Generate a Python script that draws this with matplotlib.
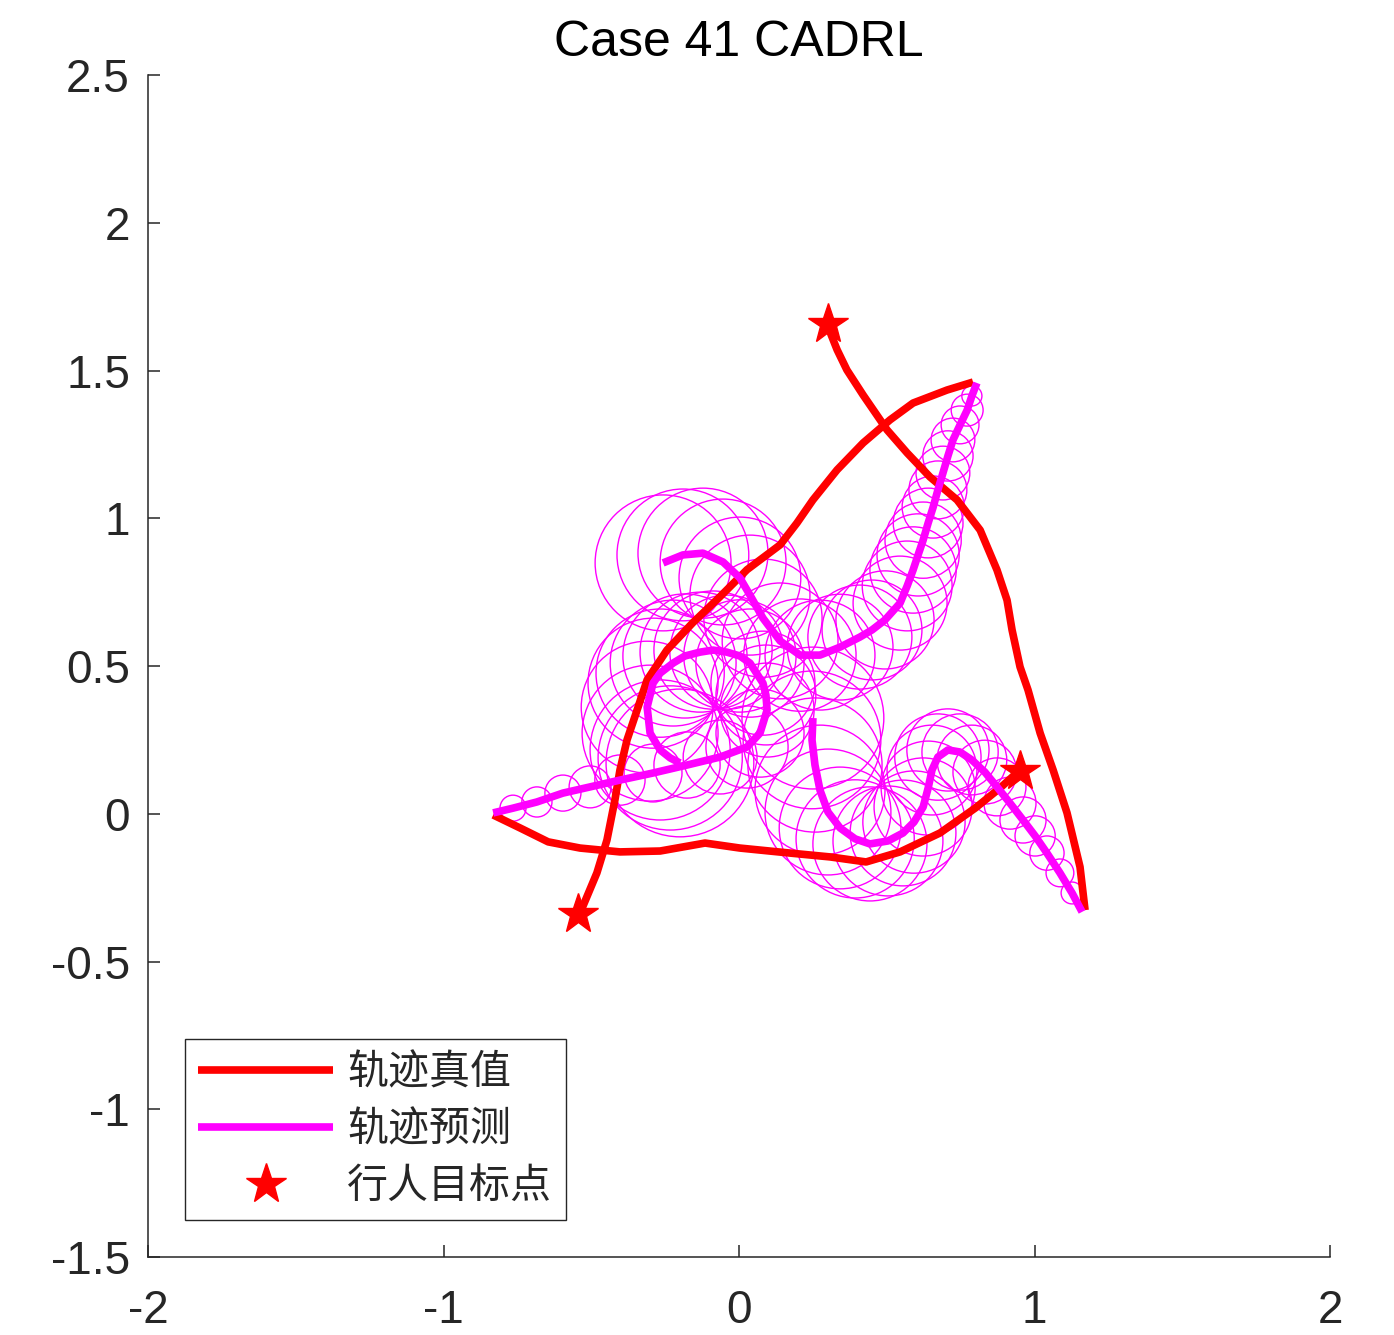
import matplotlib
matplotlib.use('Agg')
import matplotlib.pyplot as plt
from matplotlib.patches import Circle

plt.rcParams['font.family'] = ['Liberation Sans', 'Noto Sans CJK SC', 'DejaVu Sans']
plt.rcParams['axes.unicode_minus'] = False

# ground truth trajectories (red)
gt1_x = [-0.832, -0.741, -0.646, -0.538, -0.403, -0.267, -0.115, 0.003, 0.173, 0.308, 0.430, 0.545, 0.680, 0.799, 0.883, 0.951]
gt1_y = [-0.004, -0.048, -0.095, -0.116, -0.129, -0.126, -0.099, -0.116, -0.133, -0.146, -0.163, -0.129, -0.065, 0.019, 0.087, 0.148]

gt2_x = [1.171, 1.154, 1.110, 1.063, 1.019, 0.978, 0.951, 0.924, 0.907, 0.873, 0.816, 0.738, 0.646, 0.569, 0.501, 0.420, 0.365, 0.332, 0.301]
gt2_y = [-0.326, -0.180, 0.003, 0.148, 0.273, 0.419, 0.497, 0.622, 0.723, 0.825, 0.960, 1.062, 1.140, 1.221, 1.299, 1.417, 1.502, 1.570, 1.648]

gt3_x = [0.792, 0.704, 0.589, 0.511, 0.420, 0.332, 0.250, 0.196, 0.139, 0.027, -0.064, -0.156, -0.244, -0.311, -0.345, -0.379, -0.403, -0.420, -0.447, -0.481, -0.538]
gt3_y = [1.461, 1.434, 1.390, 1.333, 1.255, 1.164, 1.062, 0.984, 0.910, 0.826, 0.735, 0.647, 0.554, 0.453, 0.351, 0.250, 0.148, 0.047, -0.089, -0.200, -0.336]

# predicted trajectories (magenta) and uncertainty radius per step
pr1_x = [-0.832, -0.765, -0.684, -0.596, -0.504, -0.403, -0.291, -0.176, -0.064, 0.027, 0.071, 0.095, 0.091, 0.081,
         0.037, 0.003, -0.041, -0.088, -0.132, -0.183, -0.223, -0.267, -0.291, -0.311, -0.301, -0.267, -0.233, -0.200]
pr1_y = [0.003, 0.019, 0.040, 0.070, 0.091, 0.114, 0.138, 0.165, 0.192, 0.226, 0.273, 0.351, 0.402, 0.442,
         0.510, 0.534, 0.547, 0.554, 0.547, 0.534, 0.510, 0.476, 0.442, 0.361, 0.273, 0.216, 0.189, 0.172]
pr1_r = [0.0, 0.044, 0.051, 0.061, 0.071, 0.085, 0.098, 0.112, 0.125, 0.139, 0.149, 0.159, 0.169, 0.176,
         0.183, 0.190, 0.193, 0.200, 0.203, 0.210, 0.213, 0.217, 0.220, 0.223, 0.230, 0.237, 0.244, 0.250]

pr2_x = [1.161, 1.127, 1.086, 1.042, 1.002, 0.961, 0.917, 0.873, 0.832, 0.788, 0.748, 0.707, 0.673, 0.653,
         0.640, 0.623, 0.592, 0.555, 0.504, 0.443, 0.393, 0.342, 0.301, 0.274, 0.257, 0.247, 0.250]
pr2_y = [-0.332, -0.268, -0.200, -0.133, -0.075, -0.021, 0.036, 0.091, 0.141, 0.182, 0.209, 0.216, 0.192, 0.148,
         0.087, 0.023, -0.028, -0.065, -0.092, -0.102, -0.085, -0.048, 0.006, 0.080, 0.165, 0.250, 0.324]
pr2_r = [0.0, 0.037, 0.047, 0.058, 0.068, 0.078, 0.088, 0.098, 0.108, 0.118, 0.129, 0.139, 0.146, 0.152,
         0.159, 0.166, 0.173, 0.179, 0.186, 0.193, 0.200, 0.206, 0.213, 0.220, 0.227, 0.233, 0.240]

pr3_x = [0.805, 0.788, 0.772, 0.748, 0.724, 0.707, 0.690, 0.673, 0.657, 0.640, 0.623, 0.606, 0.589, 0.569, 0.545,
         0.494, 0.450, 0.409, 0.342, 0.274, 0.206, 0.139, 0.081, 0.037, 0.003, -0.054, -0.122, -0.190, -0.257]
pr3_y = [1.458, 1.414, 1.366, 1.316, 1.265, 1.211, 1.153, 1.096, 1.038, 0.984, 0.926, 0.876, 0.825, 0.771, 0.713,
         0.656, 0.622, 0.598, 0.564, 0.537, 0.537, 0.585, 0.662, 0.740, 0.798, 0.852, 0.882, 0.876, 0.849]
pr3_r = [0.0, 0.034, 0.054, 0.064, 0.074, 0.085, 0.091, 0.098, 0.105, 0.118, 0.129, 0.139, 0.146, 0.152, 0.159,
         0.166, 0.169, 0.176, 0.179, 0.186, 0.190, 0.196, 0.200, 0.203, 0.206, 0.213, 0.220, 0.223, 0.230]

# pedestrian goals
goal_x = [0.951, 0.301, -0.545]
goal_y = [0.144, 1.657, -0.339]

xticks = [-2, -1, 0, 1, 2]
xtick_labels = ['-2', '-1', '0', '1', '2']
yticks = [-1.5, -1, -0.5, 0, 0.5, 1, 1.5, 2, 2.5]
ytick_labels = ['-1.5', '-1', '-0.5', '0', '0.5', '1', '1.5', '2', '2.5']

labels = ['轨迹真值', '轨迹预测', '行人目标点']

dark = '#262626'
fig = plt.figure(figsize=(13.94, 13.35), dpi=100)
ax = fig.add_axes([0.1062, 0.0584, 0.8479, 0.8854])

# uncertainty circles
for px, py, pr in [(pr1_x, pr1_y, pr1_r), (pr2_x, pr2_y, pr2_r), (pr3_x, pr3_y, pr3_r)]:
    for cx, cy, r in zip(px, py, pr):
        if r > 0:
            ax.add_patch(Circle((cx, cy), r, fill=False, ec='magenta', lw=1.0, zorder=1))

line_kw = dict(lw=5.5, solid_joinstyle='round', solid_capstyle='butt')
h_gt = None
for gx, gy in [(gt1_x, gt1_y), (gt2_x, gt2_y), (gt3_x, gt3_y)]:
    l, = ax.plot(gx, gy, color='red', zorder=3, **line_kw)
    h_gt = h_gt or l
h_pr = None
for px, py in [(pr1_x, pr1_y), (pr2_x, pr2_y), (pr3_x, pr3_y)]:
    l, = ax.plot(px, py, color='magenta', zorder=4, **line_kw)
    h_pr = h_pr or l
h_goal, = ax.plot(goal_x, goal_y, ls='none', marker='*', ms=30, color='red', mec='red', zorder=5)

ax.set_xlim(-2, 2)
ax.set_ylim(-1.5, 2.5)
ax.set_xticks(xticks)
ax.set_xticklabels(xtick_labels)
ax.set_yticks(yticks)
ax.set_yticklabels(ytick_labels)
ax.spines['top'].set_visible(False)
ax.spines['right'].set_visible(False)
for s in ['left', 'bottom']:
    ax.spines[s].set_color(dark)
    ax.spines[s].set_linewidth(1.1)
ax.tick_params(direction='in', length=8.5, width=1.1, color=dark, labelcolor=dark, labelsize=33)
ax.tick_params(axis='x', pad=23)
ax.tick_params(axis='y', pad=13)

ax.set_title('Case 41 CADRL', fontsize=36, color='black', pad=14)

leg = ax.legend([h_gt, h_pr, h_goal], labels, loc='lower left', bbox_to_anchor=(0.031, 0.031),
                borderaxespad=0, fancybox=False, framealpha=1, edgecolor=dark,
                prop={'family': ['Noto Sans CJK SC'], 'size': 29.5},
                handlelength=3.3, handletextpad=0.34, labelspacing=0.38, borderpad=0.33)
leg.get_frame().set_linewidth(1.0)
for t in leg.get_texts():
    t.set_color(dark)

fig.savefig('out.png', dpi=100)
